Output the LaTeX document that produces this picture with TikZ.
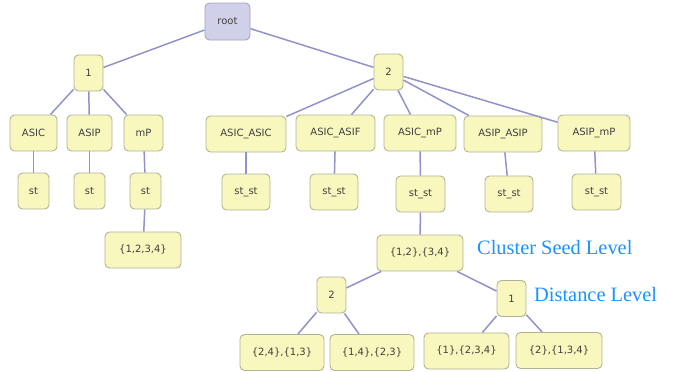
\documentclass[tikz,border=0pt]{standalone}
\usepackage{fontspec}
\setmainfont{DejaVu Sans}
\newfontfamily\labelfont{Liberation Serif}
\usepackage{tikz}
\usetikzlibrary{positioning}

\definecolor{boxfill}{HTML}{F7F7BE}
\definecolor{boxline}{HTML}{B2B295}
\definecolor{rootfill}{HTML}{D0D0E8}
\definecolor{rootline}{HTML}{A3A3C2}
\definecolor{edgecol}{HTML}{9292CA}
\definecolor{levelcol}{HTML}{1E90FF}

\tikzset{
  tnode/.style={draw=boxline, fill=boxfill, line width=0.9pt, rounded corners=4.5pt,
    minimum height=36pt, inner sep=2pt, font=\fontsize{10}{12}\selectfont, text=black!75},
  rootnode/.style={tnode, draw=rootline, fill=rootfill},
  edge/.style={draw=edgecol, line width=1.5pt},
  levellabel/.style={anchor=west, inner sep=0pt, text=levelcol,
    font=\labelfont\fontsize{20.4}{22}\selectfont}
}

\begin{document}
\begin{tikzpicture}[x=1pt, y=-1pt]
    \useasboundingbox (0,0) rectangle (688,372);
    % top of the tree
    \node[rootnode, minimum width=45pt, minimum height=37pt] (root) at (227.5,21.5) {root};
    \node[tnode, minimum width=29pt] (n1) at (88.5,73) {1};
    \node[tnode, minimum width=29pt] (n2) at (388.5,72) {2};
    % first group
    \node[tnode, minimum width=47pt] (asic) at (33.5,133) {ASIC};
    \node[tnode, minimum width=45pt] (asip) at (89.5,133) {ASIP};
    \node[tnode, minimum width=39pt] (mp) at (143.5,133) {mP};
    \node[tnode, minimum width=31pt] (st1) at (33.5,191) {st};
    \node[tnode, minimum width=31pt] (st2) at (89.5,191) {st};
    \node[tnode, minimum width=31pt] (st3) at (145.5,191) {st};
    \node[tnode, minimum width=76pt] (all) at (143,250) {\{1,2,3,4\}};
    % second group
    \node[tnode, minimum width=80pt] (aa) at (246,134) {ASIC\_ASIC};
    \node[tnode, minimum width=79pt] (af) at (335.5,133) {ASIC\_ASIF};
    \node[tnode, minimum width=72pt] (am) at (420,133) {ASIC\_mP};
    \node[tnode, minimum width=78pt] (pp) at (503,134) {ASIP\_ASIP};
    \node[tnode, minimum width=72pt] (pm) at (594,133) {ASIP\_mP};
    \node[tnode, minimum width=48pt] (ss1) at (246,192) {st\_st};
    \node[tnode, minimum width=48pt] (ss2) at (334,192) {st\_st};
    \node[tnode, minimum width=49pt] (ss3) at (420.5,194) {st\_st};
    \node[tnode, minimum width=48pt] (ss4) at (509,194) {st\_st};
    \node[tnode, minimum width=49pt] (ss5) at (596.5,192) {st\_st};
    % clustering below ASIC_mP
    \node[tnode, minimum width=86pt] (seed) at (420,253) {\{1,2\},\{3,4\}};
    \node[tnode, minimum width=29pt] (d2) at (331.5,295) {2};
    \node[tnode, minimum width=29pt] (d1) at (511.5,298.5) {1};
    \node[tnode, minimum width=84pt] (c1) at (282,352.5) {\{2,4\},\{1,3\}};
    \node[tnode, minimum width=84pt] (c2) at (372,352.5) {\{1,4\},\{2,3\}};
    \node[tnode, minimum width=85pt] (c3) at (466.5,351) {\{1\},\{2,3,4\}};
    \node[tnode, minimum width=86pt] (c4) at (559,350.5) {\{2\},\{1,3,4\}};
    \node[levellabel] (seedlbl) at (477,248) {Cluster Seed Level};
    \node[levellabel] (distlbl) at (534,294.5) {Distance Level};

    \foreach \a/\b in {root/n1, root/n2, n1/asic, n1/asip, n1/mp, asic/st1, asip/st2,
        mp/st3, st3/all, n2/aa, n2/af, n2/am, n2/pp, n2/pm, aa/ss1, af/ss2, am/ss3,
        pp/ss4, pm/ss5, ss3/seed, seed/d2, seed/d1, d2/c1, d2/c2, d1/c3, d1/c4}
      \path[edge] (\a) -- (\b);
\end{tikzpicture}
\end{document}
